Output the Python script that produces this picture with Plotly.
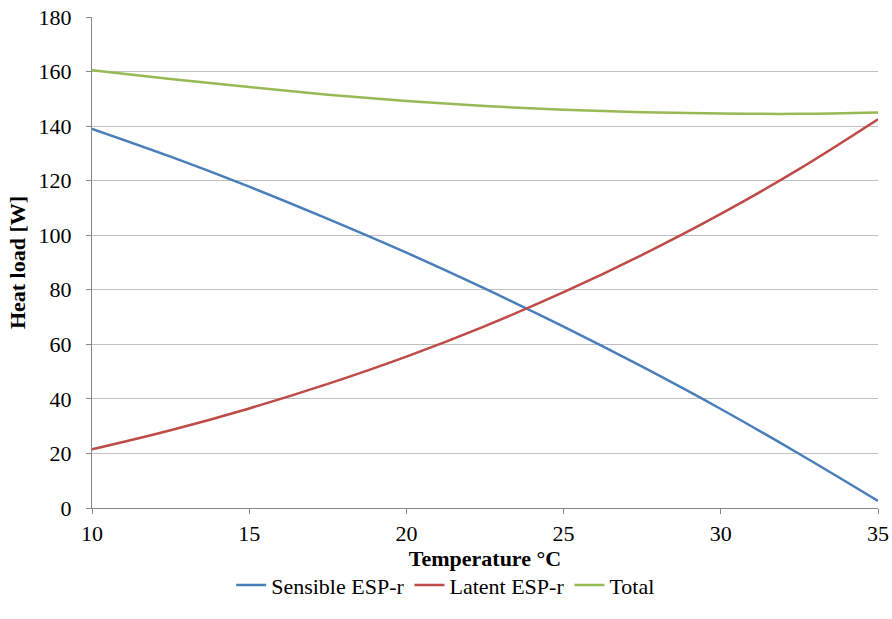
import plotly.graph_objects as go

temperature = [10, 12.5, 15, 17.5, 20, 22.5, 25, 27.5, 30, 32.5, 35]
sensible = [139, 128.8, 117.8, 106, 93.6, 80.4, 66.5, 51.8, 36.3, 19.8, 2.6]
latent = [21.5, 28.5, 36.5, 45.5, 55.5, 66.7, 79.1, 92.8, 107.8, 124.3, 142.5]
total = [160.5, 157.3, 154.3, 151.5, 149.2, 147.4, 146, 145.1, 144.6, 144.5, 145]

font = "Liberation Serif, Times New Roman, serif"

fig = go.Figure()
fig.add_trace(go.Scatter(x=temperature, y=sensible, mode="lines", name="Sensible ESP-r",
                         line=dict(color="#4a7ebb", width=2.5, shape="spline")))
fig.add_trace(go.Scatter(x=temperature, y=latent, mode="lines", name="Latent ESP-r",
                         line=dict(color="#be4b48", width=2.5, shape="spline")))
fig.add_trace(go.Scatter(x=temperature, y=total, mode="lines", name="Total",
                         line=dict(color="#98b954", width=2.5, shape="spline")))

fig.update_layout(
    width=892, height=619,
    margin=dict(l=92, r=14, t=17, b=111),
    plot_bgcolor="white", paper_bgcolor="white",
    font=dict(family=font, size=22, color="#000000"),
    showlegend=True,
    legend=dict(orientation="h", x=0.45, xanchor="center",
                y=-0.2, yanchor="bottom",
                font=dict(family=font, size=22), itemwidth=30),
    xaxis=dict(range=[10, 35], tickmode="linear", tick0=10, dtick=5,
               showgrid=False, showline=True, linecolor="#868686", linewidth=1,
               ticks="outside", ticklen=5, tickcolor="#868686",
               ticklabelstandoff=1, automargin=False,
               title=dict(text="<b>Temperature °C</b>", standoff=3,
                          font=dict(family=font, size=22)),
               zeroline=False),
    yaxis=dict(range=[0, 180], tickmode="linear", tick0=0, dtick=20,
               showgrid=True, gridcolor="#c0c0c0", gridwidth=1,
               showline=True, linecolor="#868686", linewidth=1,
               ticks="outside", ticklen=5, tickcolor="#868686",
               ticklabelstandoff=10, automargin=False,
               title=dict(text="<b>Heat load [W]</b>", standoff=6,
                          font=dict(family=font, size=22)),
               zeroline=False),
)

fig.write_html("out.html")
